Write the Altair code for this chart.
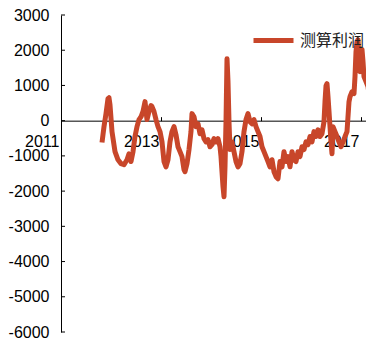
import altair as alt
import pandas as pd

COLOR = "#C8462A"
SERIES = "测算利润"

years = [2011.82, 2011.86, 2011.90, 2011.94, 2011.96, 2011.98, 2012.02, 2012.08, 2012.14, 2012.20,
         2012.26, 2012.32, 2012.36, 2012.40, 2012.44, 2012.48, 2012.52, 2012.56, 2012.60, 2012.64,
         2012.68, 2012.72, 2012.76, 2012.80, 2012.82, 2012.86, 2012.90, 2012.94, 2012.98, 2013.02,
         2013.06, 2013.10, 2013.14, 2013.18, 2013.22, 2013.26, 2013.30, 2013.34, 2013.38, 2013.42,
         2013.46, 2013.48, 2013.52, 2013.56, 2013.60, 2013.62, 2013.66, 2013.70, 2013.74, 2013.78,
         2013.82, 2013.86, 2013.90, 2013.94, 2013.98, 2014.02, 2014.06, 2014.10, 2014.14, 2014.18,
         2014.20, 2014.22, 2014.24, 2014.26, 2014.28, 2014.30, 2014.32, 2014.34, 2014.36, 2014.38,
         2014.42, 2014.46, 2014.50, 2014.54, 2014.58, 2014.62, 2014.66, 2014.70, 2014.74, 2014.78,
         2014.82, 2014.86, 2014.90, 2014.94, 2014.98, 2015.02, 2015.06, 2015.10, 2015.14, 2015.18,
         2015.22, 2015.26, 2015.30, 2015.34, 2015.38, 2015.42, 2015.46, 2015.50, 2015.54, 2015.58,
         2015.62, 2015.66, 2015.70, 2015.74, 2015.78, 2015.82, 2015.86, 2015.90, 2015.94, 2015.98,
         2016.02, 2016.06, 2016.10, 2016.14, 2016.18, 2016.22, 2016.26, 2016.28, 2016.30, 2016.32,
         2016.34, 2016.36, 2016.38, 2016.40, 2016.42, 2016.44, 2016.48, 2016.52, 2016.56, 2016.60,
         2016.64, 2016.68, 2016.72, 2016.76, 2016.78, 2016.82, 2016.86, 2016.88, 2016.90, 2016.92,
         2016.94, 2016.96, 2016.98, 2017.00, 2017.02, 2017.04, 2017.06, 2017.10, 2017.14, 2017.18,
         2017.22, 2017.24]

profit = [-620, -170, 200, 625, 650, 450, -310, -880, -1110, -1220,
          -1250, -1110, -940, -1160, -880, -450, -170, 30, 110, 260,
          540, 30, 260, 430, 400, 260, 30, -170, -310, -600,
          -1160, -1310, -1110, -600, -310, -170, -400, -740, -880, -1020,
          -1390, -1450, -1220, -820, -310, 200, 110, -170, -90, -370,
          -260, -510, -600, -540, -740, -680, -510, -600, -510, -740,
          -1020, -1450, -1870, -2160, -1310, -30, 1760, 1110, -30, -820,
          -600, -880, -1160, -1310, -1220, -880, -310, 30, 200, -30,
          -90, 30, -170, -310, -450, -740, -880, -1020, -1160, -1310,
          -1110, -1450, -1590, -1650, -1160, -1310, -880, -1160, -1020, -1310,
          -880, -1110, -1160, -880, -1020, -740, -820, -600, -680, -450,
          -600, -310, -450, -260, -450, -370, -30, 540, 990, 1050,
          680, 260, -170, -600, -940, -170, -310, -450, -600, -740,
          -600, -450, -310, 540, 680, 820, 770, 1250, 1960, 2240,
          2300, 1820, 1390, 1960, 2020, 1680, 1250, 1110, 970, 540,
          260, -170]

y_ticks = [-6000, -5000, -4000, -3000, -2000, -1000, 0, 1000, 2000, 3000]
x_ticks = [2011, 2013, 2015, 2017]

df = pd.DataFrame({"year": years, "profit": profit, "series": SERIES})
ticks_df = pd.DataFrame({"v": y_ticks})

W, H = 305, 317
y0_offset = -H * 3000 / 9000

y_scale = alt.Scale(domain=[-6000, 3000], nice=False)
y_axis = alt.Axis(values=y_ticks, tickCount=10, labelExpr="datum.value + ''", title=None, grid=False,
                  tickSize=0, labelPadding=12, domainColor="black", labelOverlap=False,
                  labelFontSize=16, labelColor="black", labelFont="Liberation Sans")

line = alt.Chart(df).mark_line(strokeWidth=5, clip=True, strokeJoin="round").encode(
    x=alt.X("year:Q",
            scale=alt.Scale(domain=[2011, 2011 + W / 50], nice=False, zero=False),
            axis=alt.Axis(orient="top", offset=y0_offset, values=x_ticks, labelExpr="datum.value + ''",
                          title=None, grid=False, tickSize=4, labelPadding=-17, labelBaseline="top",
                          labelAlign="right", labelOffset=-2, domainColor="black", tickColor="black",
                          labelOverlap=False, labelFontSize=16, labelColor="black",
                          labelFont="Liberation Sans")),
    y=alt.Y("profit:Q", scale=y_scale, axis=y_axis),
    color=alt.Color("series:N", scale=alt.Scale(range=[COLOR]),
                    legend=alt.Legend(orient="none", legendX=190, legendY=3, title=None,
                                      symbolType="stroke", symbolSize=1600, symbolStrokeWidth=5,
                                      labelFontSize=16, labelFont="Noto Sans CJK SC",
                                      labelColor="#222", padding=0, labelOffset=4)),
)

ticks = alt.Chart(ticks_df).mark_rule(color="black", strokeWidth=1).encode(
    y=alt.Y("v:Q", scale=y_scale, axis=y_axis),
    x=alt.value(0),
    x2=alt.value(4),
)

chart = alt.layer(line, ticks).properties(
    width=W, height=H,
    autosize=alt.AutoSizeParams(type="none"),
    padding={"left": 53, "top": 7, "right": 0, "bottom": 9},
    background="white",
).configure_view(stroke=None)

chart.save("out.html", embed_options={"renderer": "svg", "actions": False})
